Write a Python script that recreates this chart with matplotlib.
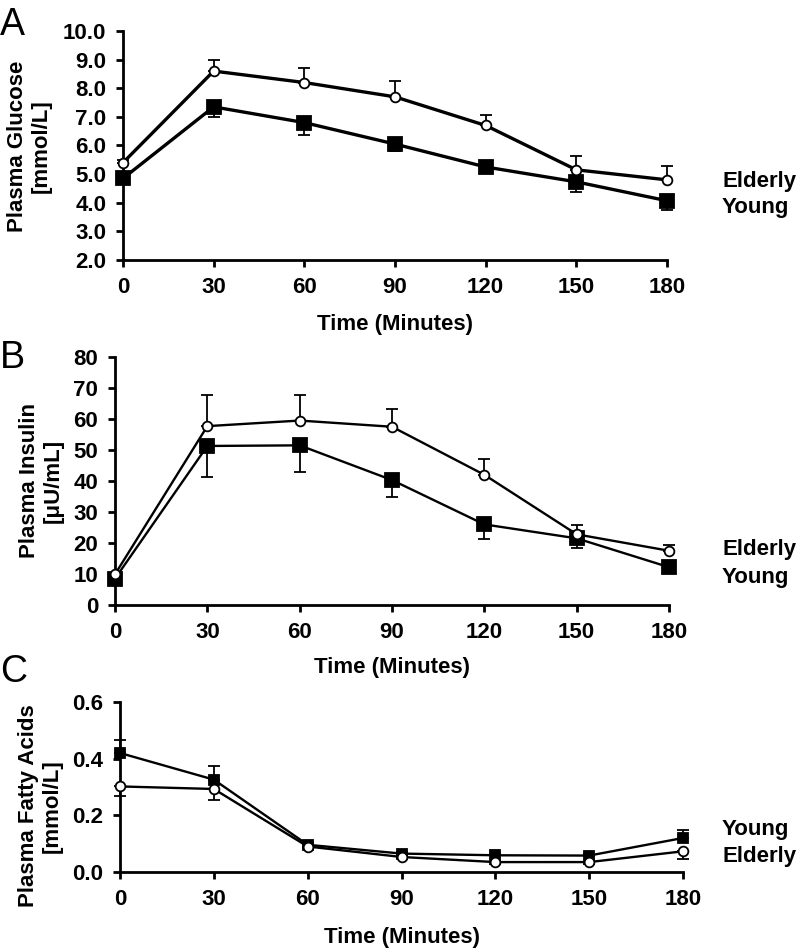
import matplotlib
matplotlib.use("Agg")
import matplotlib.pyplot as plt

plt.rcParams['font.family'] = ['Liberation Sans', 'DejaVu Sans']

time = [0, 30, 60, 90, 120, 150, 180]
time_ticks = [0, 30, 60, 90, 120, 150, 180]

glucose_elderly = [5.4, 8.6, 8.2, 7.7, 6.7, 5.15, 4.8]
glucose_elderly_err = [0.1, 0.38, 0.5, 0.55, 0.36, 0.48, 0.49]
glucose_young = [4.85, 7.35, 6.8, 6.05, 5.25, 4.73, 4.07]
glucose_young_err = [0.1, 0.36, 0.43, 0.24, 0.15, 0.37, 0.34]
glucose_ticks = [2.0, 3.0, 4.0, 5.0, 6.0, 7.0, 8.0, 9.0, 10.0]

insulin_elderly = [9.9, 57.7, 59.5, 57.5, 42.0, 22.8, 17.5]
insulin_elderly_err = [0.5, 9.9, 8.3, 5.8, 5.2, 3.0, 2.0]
insulin_young = [8.5, 51.3, 51.5, 40.3, 26.0, 21.5, 12.2]
insulin_young_err = [0.5, 10.0, 8.6, 5.5, 4.8, 3.2, 1.0]
insulin_ticks = [0, 10, 20, 30, 40, 50, 60, 70, 80]

ffa_young = [0.42, 0.326, 0.096, 0.065, 0.059, 0.058, 0.12]
ffa_young_err = [0.047, 0.047, 0.005, 0.005, 0.005, 0.005, 0.029]
ffa_elderly = [0.302, 0.293, 0.090, 0.053, 0.035, 0.035, 0.073]
ffa_elderly_err = [0.035, 0.04, 0.005, 0.005, 0.005, 0.005, 0.027]
ffa_ticks = [0.0, 0.2, 0.4, 0.6]

W, H = 796, 952
fig = plt.figure(figsize=(W / 100, H / 100), dpi=100)

FS = 16


def px_axes(left, right, top, bottom):
    return [left / W, 1 - bottom / H, (right - left) / W, (bottom - top) / H]


def style_axes(ax, yticks, fmt, lw):
    ax.set_xlim(0, 180)
    ax.set_ylim(yticks[0], yticks[-1])
    ax.set_xticks(time_ticks)
    ax.set_yticks(yticks)
    ax.set_yticklabels([fmt.format(v) for v in yticks])
    for s in ['top', 'right']:
        ax.spines[s].set_visible(False)
    for s in ['left', 'bottom']:
        ax.spines[s].set_linewidth(lw)
    ax.tick_params(direction='out', length=5, width=lw, labelsize=FS, pad=7)
    for lab in ax.get_xticklabels() + ax.get_yticklabels():
        lab.set_fontweight('bold')


def series(ax, y, err, up, marker, ms, lw, fill, z):
    if up:
        yerr = [[0] * len(err), err]
    else:
        yerr = [err, [0] * len(err)]
    cont = ax.errorbar(time, y, yerr=yerr, color='black', lw=lw, marker=marker,
                       ms=ms, mfc=fill, mec='black', mew=1.3, capsize=4,
                       elinewidth=1.3, capthick=1.3, zorder=z)
    for art in cont.get_children():
        art.set_clip_on(False)


# Panel A
axA = fig.add_axes(px_axes(123, 667, 31, 260))
series(axA, glucose_young, glucose_young_err, False, 's', 9.5, 2.4, 'black', 3)
series(axA, glucose_elderly, glucose_elderly_err, True, 'o', 7, 2.4, 'white', 4)
style_axes(axA, glucose_ticks, '{:.1f}', 2.0)
axA.set_ylabel('Plasma Glucose\n[mmol/L]', fontsize=FS, fontweight='bold', va='center')
axA.yaxis.set_label_coords(-0.172, 0.497)
axA.set_xlabel('Time (Minutes)', fontsize=FS, fontweight='bold', va='center')
axA.xaxis.set_label_coords(0.5, -0.2835)

# Panel B
axB = fig.add_axes(px_axes(115, 669, 357, 605))
series(axB, insulin_young, insulin_young_err, False, 's', 9.5, 1.7, 'black', 3)
series(axB, insulin_elderly, insulin_elderly_err, True, 'o', 7, 1.7, 'white', 4)
style_axes(axB, insulin_ticks, '{:d}', 2.0)
axB.set_ylabel('Plasma Insulin\n[μU/mL]', fontsize=FS, fontweight='bold', va='center')
axB.yaxis.set_label_coords(-0.133, 0.5)
axB.set_xlabel('Time (Minutes)', fontsize=FS, fontweight='bold', va='center')
axB.xaxis.set_label_coords(0.5, -0.2537)

# Panel C
axC = fig.add_axes(px_axes(120, 683, 702, 872))
series(axC, ffa_young, ffa_young_err, True, 's', 7, 1.7, 'black', 3)
series(axC, ffa_elderly, ffa_elderly_err, False, 'o', 7, 1.7, 'white', 4)
style_axes(axC, ffa_ticks, '{:.1f}', 2.0)
axC.set_ylabel('Plasma Fatty Acids\n[mmol/L]', fontsize=FS, fontweight='bold', va='center')
axC.yaxis.set_label_coords(-0.141, 0.39)
axC.set_xlabel('Time (Minutes)', fontsize=FS, fontweight='bold', va='center')
axC.xaxis.set_label_coords(0.5, -0.386)


def ftext(x, y, s, **kw):
    fig.text(x / W, 1 - y / H, s, **kw)


# group labels
for (s, yb) in [('Elderly', 187), ('Young', 213), ('Elderly', 555), ('Young', 583),
                ('Young', 835), ('Elderly', 862)]:
    ftext(722, yb, s, fontsize=FS, fontweight='bold', va='baseline', ha='left')

# panel letters
for (s, yb) in [('A', 35), ('B', 368), ('C', 682)]:
    ftext(0, yb, s, fontsize=27, va='baseline', ha='left')

fig.savefig('out.png', dpi=100)
